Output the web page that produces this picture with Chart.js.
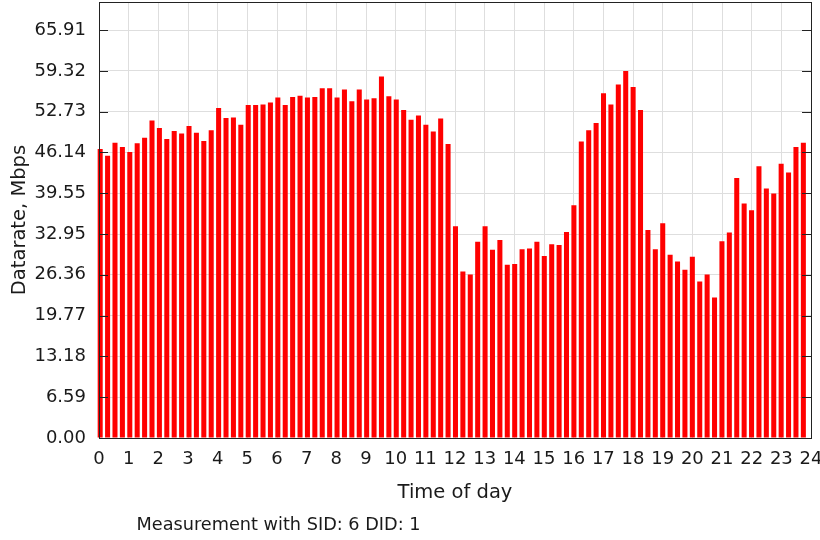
<!DOCTYPE html>
<html>
<head>
<meta charset="utf-8">
<script src="https://cdn.jsdelivr.net/npm/chart.js@4/dist/chart.umd.min.js"></script>
<style>
  html, body { margin: 0; padding: 0; background: #fff; }
  #wrap { position: relative; width: 820px; height: 540px; }
  #footer {
    position: absolute; left: 0; width: 557px; top: 514px;
    text-align: center; font: 17.7px "DejaVu Sans", sans-serif; color: #1a1a1a;
  }
</style>
</head>
<body>
<div id="wrap">
  <canvas id="chart" width="820" height="540"></canvas>
  <div id="footer">Measurement with SID: 6 DID: 1</div>
</div>
<script>
// datarate per 15-minute slot, 96 slots over the day (Mbps)
var rates = [
  46.7, 45.6, 47.7, 47.0, 46.2, 47.6, 48.5, 51.3, 50.1, 48.3, 49.6, 49.2, 50.4, 49.3, 48.0, 49.7,
  53.3, 51.7, 51.8, 50.6, 53.8, 53.8, 53.9, 54.2, 55.0, 53.8, 55.1, 55.3, 55.0, 55.1, 56.5, 56.5,
  55.0, 56.3, 54.4, 56.3, 54.7, 54.9, 58.4, 55.2, 54.7, 53.0, 51.4, 52.1, 50.6, 49.5, 51.6, 47.5,
  34.2, 26.9, 26.4, 31.7, 34.2, 30.4, 32.0, 28.0, 28.1, 30.5, 30.6, 31.7, 29.4, 31.3, 31.2, 33.3,
  37.6, 47.9, 49.7, 50.9, 55.7, 53.9, 57.1, 59.3, 56.7, 53.0, 33.6, 30.5, 34.7, 29.6, 28.5, 27.2,
  29.3, 25.3, 26.4, 22.7, 31.8, 33.2, 42.0, 37.9, 36.8, 43.9, 40.3, 39.5, 44.3, 42.9, 47.0, 47.7
];
// slot start times, hours
var hours = rates.map(function (_, k) { return 0.04 + k * 0.2495; });

var yTickValues = [0, 6.591, 13.182, 19.773, 26.364, 32.955, 39.546, 46.137, 52.728, 59.319, 65.91];
var yTickLabels = ['0.00', '6.59', '13.18', '19.77', '26.36', '32.95', '39.55', '46.14', '52.73', '59.32', '65.91'];

Chart.defaults.font.family = '"DejaVu Sans", sans-serif';
Chart.defaults.color = '#1a1a1a';

var ink = '#222', gridCol = '#dedede';

// frame round the plot plus inward ticks on both y sides
var frame = {
  id: 'frame',
  afterDatasetsDraw: function (chart) {
    var a = chart.chartArea, ctx = chart.ctx, y = chart.scales.y;
    ctx.save();
    ctx.strokeStyle = ink;
    ctx.lineWidth = 1;
    ctx.strokeRect(a.left + 0.5, a.top + 0.5, a.right - a.left, a.bottom - a.top);
    ctx.beginPath();
    yTickValues.forEach(function (v) {
      var py = Math.round(y.getPixelForValue(v)) + 0.5;
      ctx.moveTo(a.left, py); ctx.lineTo(a.left + 9, py);
      ctx.moveTo(a.right, py); ctx.lineTo(a.right - 9, py);
    });
    ctx.stroke();
    ctx.restore();
  }
};

new Chart(document.getElementById('chart'), {
  type: 'bar',
  data: {
    datasets: [{
      label: 'Datarate, Mbps',
      data: rates.map(function (r, k) { return { x: hours[k], y: r }; }),
      backgroundColor: '#ff0000',
      borderWidth: 0,
      barPercentage: 0.68,
      categoryPercentage: 1,
      clip: 6
    }]
  },
  options: {
    responsive: false,
    animation: false,
    layout: { padding: { left: 0, top: 2, right: 9, bottom: 0 } },
    plugins: { legend: { display: false } },
    scales: {
      x: {
        type: 'linear',
        min: 0, max: 24,
        offset: false,
        grid: { color: gridCol, drawTicks: false, offset: false },
        border: { display: false },
        ticks: { stepSize: 1, padding: 11, font: { size: 18 }, maxRotation: 0 },
        title: { display: true, text: 'Time of day', font: { size: 19.5 }, padding: { bottom: 35 } },
        afterFit: function (s) { s.height = 102; s.paddingLeft = 0; s.paddingRight = 0; }
      },
      y: {
        min: 0, max: 70.44,
        grid: { color: gridCol, drawTicks: false },
        border: { display: false },
        afterBuildTicks: function (s) { s.ticks = yTickValues.map(function (v) { return { value: v }; }); },
        ticks: {
          padding: 13, font: { size: 18 },
          callback: function (v, i) { return yTickLabels[i]; }
        },
        title: { display: true, text: 'Datarate, Mbps', font: { size: 19.5 }, padding: { top: 8 } },
        afterFit: function (s) { s.width = 99; s.paddingTop = 0; s.paddingBottom = 0; }
      }
    }
  },
  plugins: [frame]
});
</script>
</body>
</html>
